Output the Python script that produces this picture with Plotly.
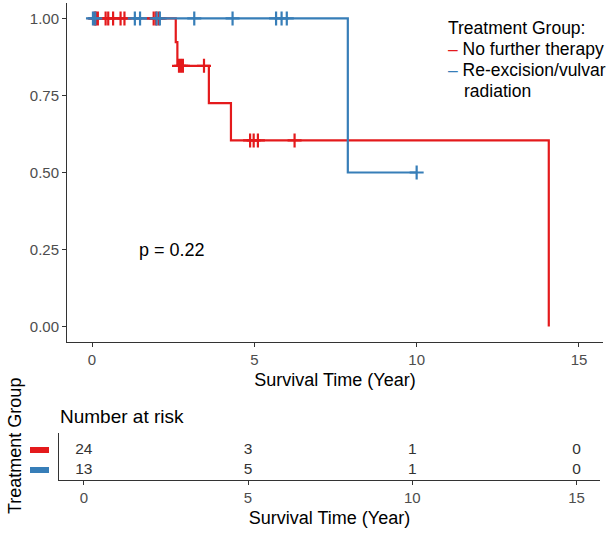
import plotly.graph_objects as go

FONT = "Liberation Sans, Arial, sans-serif"
RED = "#E41A1C"
BLUE = "#377EB8"
AXIS = "#333333"
TEXT = "#333333"

# Kaplan-Meier step points (time in years, survival probability)
red_step_time = [0, 2.58, 2.63, 3.60, 4.28, 14.07]
red_step_surv = [1.0, 0.923, 0.846, 0.725, 0.604, 0.0]
blue_step_time = [0, 7.88, 10.0]
blue_step_surv = [1.0, 0.5, 0.5]

# censored observations
red_cens_time = [0.08, 0.12, 0.18, 0.42, 0.50, 0.65, 0.88, 1.00, 1.90, 1.97, 2.05,
                 2.68, 2.74, 2.80, 3.45,
                 4.87, 4.98, 5.11, 6.24]
red_cens_surv = [1.0] * 11 + [0.846] * 4 + [0.604] * 4
blue_cens_time = [0.03, 0.10, 1.32, 1.48, 1.99, 2.09, 3.15, 4.33, 5.67, 5.84, 6.00, 10.0]
blue_cens_surv = [1.0] * 11 + [0.5]

# number at risk table
risk_times = [0, 5, 10, 15]
risk_red = [24, 3, 1, 0]
risk_blue = [13, 5, 1, 0]
risk_rows = [2, 1]  # row positions: red on top, blue below
row_colors = [RED, BLUE]

W, H = 612, 538


def px_x(p):
    return p / W


def px_y(p):
    return 1 - p / H


fig = go.Figure()

# curves
fig.add_trace(go.Scatter(x=red_step_time, y=red_step_surv, mode="lines", line_shape="hv",
                         line=dict(color=RED, width=2.2), showlegend=False, hoverinfo="skip"))
fig.add_trace(go.Scatter(x=blue_step_time, y=blue_step_surv, mode="lines", line_shape="hv",
                         line=dict(color=BLUE, width=2.2), showlegend=False, hoverinfo="skip"))
fig.add_trace(go.Scatter(x=red_cens_time, y=red_cens_surv, mode="markers",
                         marker=dict(symbol="cross-thin", size=10, line=dict(color=RED, width=2.2)),
                         showlegend=False))
fig.add_trace(go.Scatter(x=blue_cens_time, y=blue_cens_surv, mode="markers",
                         marker=dict(symbol="cross-thin", size=10, line=dict(color=BLUE, width=2.2)),
                         showlegend=False))

# risk table
for row, vals in zip(risk_rows, [risk_red, risk_blue]):
    fig.add_trace(go.Scatter(x=risk_times, y=[row] * len(risk_times), mode="text",
                             text=[str(v) for v in vals], textposition="middle center",
                             textfont=dict(size=15.5, color=TEXT, family=FONT),
                             xaxis="x2", yaxis="y2", showlegend=False))

axis_common = dict(showline=True, linecolor=AXIS, linewidth=1, ticks="outside", ticklen=4,
                   tickcolor=AXIS, showgrid=False, zeroline=False,
                   tickfont=dict(size=15, color="#4D4D4D", family=FONT))

legend_font = dict(size=17.5, color="black", family=FONT)
annotations = [
    dict(text="p = 0.22", x=2.45, y=0.25, xref="x", yref="y", showarrow=False,
         font=dict(size=18, color="black", family=FONT)),
    # legend
    dict(text="Treatment Group:", x=px_x(446), y=px_y(28), xref="paper", yref="paper",
         xanchor="left", yanchor="middle", showarrow=False, font=legend_font),
    dict(text="<span style='color:%s'>–</span> No further therapy" % RED,
         x=px_x(446), y=px_y(49), xref="paper", yref="paper",
         xanchor="left", yanchor="middle", showarrow=False, font=legend_font),
    dict(text="<span style='color:%s'>–</span> Re-excision/vulvar" % BLUE,
         x=px_x(446), y=px_y(70), xref="paper", yref="paper",
         xanchor="left", yanchor="middle", showarrow=False, font=legend_font),
    dict(text="radiation", x=px_x(462), y=px_y(91), xref="paper", yref="paper",
         xanchor="left", yanchor="middle", showarrow=False, font=legend_font),
    # risk table title and y title
    dict(text="Number at risk", x=px_x(58), y=px_y(416), xref="paper", yref="paper",
         xanchor="left", yanchor="middle", showarrow=False,
         font=dict(size=19, color="black", family=FONT)),
    dict(text="Treatment Group", x=px_x(15), y=px_y(446), xref="paper", yref="paper",
         xanchor="center", yanchor="middle",
         textangle=-90, showarrow=False, font=dict(size=18, color="black", family=FONT)),
]

# colored keys in place of the risk table's y tick labels
shapes = [
    dict(type="line", xref="paper", yref="y2", x0=px_x(30), x1=px_x(49), y0=row, y1=row,
         line=dict(color=col, width=6))
    for row, col in zip(risk_rows, row_colors)
]

fig.update_layout(
    width=W, height=H,
    margin=dict(l=0, r=0, t=0, b=0),
    plot_bgcolor="white", paper_bgcolor="white",
    font=dict(family=FONT, color=TEXT),
    xaxis=dict(domain=[px_x(67), px_x(603)], range=[-0.77, 15.74], tickvals=[0, 5, 10, 15],
               title=dict(text="Survival Time (Year)", standoff=6,
                          font=dict(size=18, color="black", family=FONT)),
               anchor="y", **axis_common),
    yaxis=dict(domain=[px_y(342), px_y(3)], range=[-0.05, 1.05],
               tickvals=[0, 0.25, 0.5, 0.75, 1.0], tickformat=".2f", anchor="x", **axis_common),
    xaxis2=dict(domain=[px_x(59), px_x(600)], range=[-0.755, 15.715], tickvals=[0, 5, 10, 15],
                title=dict(text="Survival Time (Year)", standoff=6,
                           font=dict(size=18, color="black", family=FONT)),
                anchor="y2", **axis_common),
    yaxis2=dict(domain=[px_y(480), px_y(433)], range=[0.5, 2.85], showline=True,
                linecolor=AXIS, linewidth=1, showticklabels=False, ticks="",
                showgrid=False, zeroline=False, anchor="x2"),
    annotations=annotations,
    shapes=shapes,
)

fig.write_html("out.html", config={"displayModeBar": False},
               post_script="document.body.style.margin = '0px';")
